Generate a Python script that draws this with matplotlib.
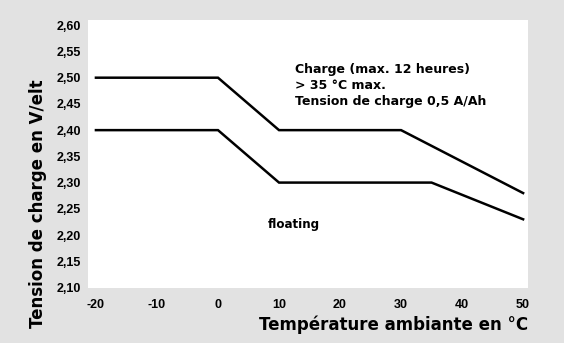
import matplotlib
matplotlib.use("Agg")
import matplotlib.pyplot as plt

# Temperature breakpoints (°C) and cell voltages (V/elt)
charge_temp = [-20, 0, 10, 30, 50]
charge_volt = [2.50, 2.50, 2.40, 2.40, 2.28]

float_temp = [-20, 0, 10, 35, 50]
float_volt = [2.40, 2.40, 2.30, 2.30, 2.23]

x_ticks = [-20, -10, 0, 10, 20, 30, 40, 50]
y_ticks = [2.10, 2.15, 2.20, 2.25, 2.30, 2.35, 2.40, 2.45, 2.50, 2.55, 2.60]
y_tick_labels = [f"{v:.2f}".replace(".", ",") for v in y_ticks]

plt.rcParams["font.family"] = ["Liberation Sans", "DejaVu Sans"]
wide = ["DejaVu Sans"]

fig = plt.figure(figsize=(5.64, 3.43), dpi=100, facecolor="#e2e2e2")
ax = fig.add_axes([88 / 564, 55 / 343, 440 / 564, 268 / 343])
ax.set_facecolor("white")

ax.plot(charge_temp, charge_volt, color="black", lw=1.8, solid_joinstyle="miter")
ax.plot(float_temp, float_volt, color="black", lw=1.8, solid_joinstyle="miter")

ax.set_xlim(-21.3, 50.8)
ax.set_ylim(2.099, 2.61)

ax.set_xticks(x_ticks)
ax.set_xticklabels([str(t) for t in x_ticks], fontsize=9, fontweight="bold")
ax.set_yticks(y_ticks)
ax.set_yticklabels(y_tick_labels, fontsize=9, fontweight="bold")
ax.tick_params(axis="both", length=0)
ax.tick_params(axis="x", pad=8)
ax.tick_params(axis="y", pad=5)

for s in ax.spines.values():
    s.set_visible(False)

ax.text(12.6, 2.486, "Charge (max. 12 heures)\n> 35 °C max.\nTension de charge 0,5 A/Ah",
        family=wide, fontsize=9, fontweight="bold", va="center", ha="left",
        linespacing=1.3)
ax.text(8.1, 2.221, "floating", family=wide, fontsize=8.6, fontweight="bold",
        va="center", ha="left")

ax.set_xlabel("Température ambiante en °C", family=wide, fontsize=12,
              fontweight="bold", loc="right", labelpad=3)
fig.text(38 / 564, 15 / 343, "Tension de charge en V/elt", rotation=90,
         family=wide, fontsize=12, fontweight="bold", ha="center", va="bottom")

fig.savefig("out.png", dpi=100, facecolor=fig.get_facecolor())
